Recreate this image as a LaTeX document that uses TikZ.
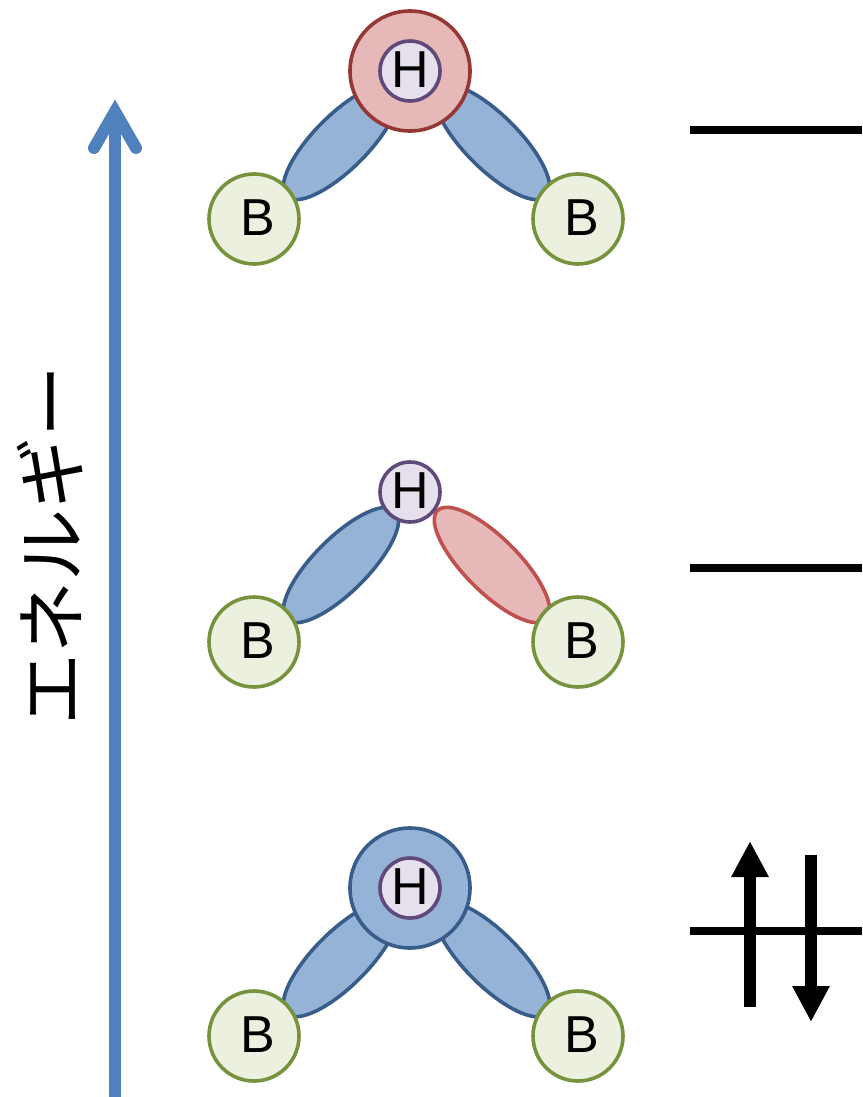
\documentclass[tikz,border=0pt]{standalone}
\usepackage{fontspec}
\setmainfont{Liberation Sans}
\newfontfamily\cjk{Noto Sans CJK JP}
\usetikzlibrary{shapes.geometric,arrows.meta}
\definecolor{bluefill}{HTML}{95B3D7}
\definecolor{bluedraw}{HTML}{385D8A}
\definecolor{redfill}{HTML}{E6B9B8}
\definecolor{reddark}{HTML}{953735}
\definecolor{redlobe}{HTML}{C0504D}
\definecolor{greenfill}{HTML}{EBF1DE}
\definecolor{greendraw}{HTML}{76923C}
\definecolor{purplefill}{HTML}{E6E0EC}
\definecolor{purpledraw}{HTML}{604A7B}
\definecolor{axisblue}{HTML}{4F81BD}
\newcommand{\atomB}{\raisebox{3pt}{\hspace*{7pt}B}}
\newcommand{\atomH}{\raisebox{3pt}{\hspace*{1pt}H}}
\tikzset{
  atomtext/.style={font=\fontsize{52}{52}\selectfont,text=black,inner sep=0pt,outer sep=0pt,circle,line width=3.6pt},
  batom/.style={atomtext,draw=greendraw,fill=greenfill,minimum size=90pt},
  hatom/.style={atomtext,draw=purpledraw,fill=purplefill,minimum size=60pt},
  bigred/.style={circle,draw=reddark,fill=redfill,line width=3.6pt,minimum size=120pt,inner sep=0pt,outer sep=0pt},
  bigblue/.style={circle,draw=bluedraw,fill=bluefill,line width=3.6pt,minimum size=120pt,inner sep=0pt,outer sep=0pt},
  lobe/.style={ellipse,line width=3.6pt,minimum width=154pt,minimum height=54pt,inner sep=0pt,outer sep=0pt},
  bluelobe/.style={lobe,draw=bluedraw,fill=bluefill},
  redlobeshape/.style={lobe,draw=redlobe,fill=redfill},
  level/.style={draw=black,line width=8pt},
  spin/.style={draw=black,line width=12pt,-{Triangle[length=36pt,width=35pt]}},
  axis/.style={draw=axisblue,line width=12pt},
  axishead/.style={draw=axisblue,line width=12pt,line cap=round,line join=miter,miter limit=10},
}
\begin{document}
\begin{tikzpicture}[x=1pt,y=-1pt]
\useasboundingbox (0,0) rectangle (862,1097);
% axis
\coordinate (axisfoot) at (115,1097);
\coordinate (axistip) at (115,111.5);
\coordinate (axisl) at (94,148);
\coordinate (axisr) at (136,148);
\draw[axis] (axisfoot) -- (axistip);
\draw[axishead] (axisl) -- (axistip) -- (axisr);
\node[font=\cjk\fontsize{72}{72}\selectfont,rotate=90,inner sep=0pt] (energy) at (50,545) {エネルギー};
% top
\node[bluelobe,rotate=45] (tl) at (341,142) {};
\node[bluelobe,rotate=-45] (tr) at (492,142) {};
\node[bigred] (topbig) at (410,71) {};
\node[hatom] (toph) at (410,71) {\atomH};
\node[batom] (topbl) at (254,219) {\atomB};
\node[batom] (topbr) at (578,219) {\atomB};
% middle
\node[bluelobe,rotate=45] (ml) at (341,565) {};
\node[redlobeshape,rotate=-45] (mr) at (492,565) {};
\node[hatom] (midh) at (410,492) {\atomH};
\node[batom] (midbl) at (254,642) {\atomB};
\node[batom] (midbr) at (578,642) {\atomB};
% bottom
\node[bluelobe,rotate=45] (bl) at (341,959) {};
\node[bluelobe,rotate=-45] (br) at (492,959) {};
\node[bigblue] (botbig) at (410,888) {};
\node[hatom] (both) at (410,888) {\atomH};
\node[batom] (botbl) at (254,1036) {\atomB};
\node[batom] (botbr) at (578,1036) {\atomB};
% levels
\coordinate (l1a) at (690,130); \coordinate (l1b) at (862,130);
\coordinate (l2a) at (690,568); \coordinate (l2b) at (862,568);
\coordinate (l3a) at (690,931); \coordinate (l3b) at (862,931);
\draw[level] (l1a) -- (l1b);
\draw[level] (l2a) -- (l2b);
\draw[level] (l3a) -- (l3b);
% spins
\coordinate (upa) at (750,1007); \coordinate (upb) at (750,841);
\coordinate (dna) at (811,855); \coordinate (dnb) at (811,1022);
\draw[spin] (upa) -- (upb);
\draw[spin] (dna) -- (dnb);
\end{tikzpicture}
\end{document}
